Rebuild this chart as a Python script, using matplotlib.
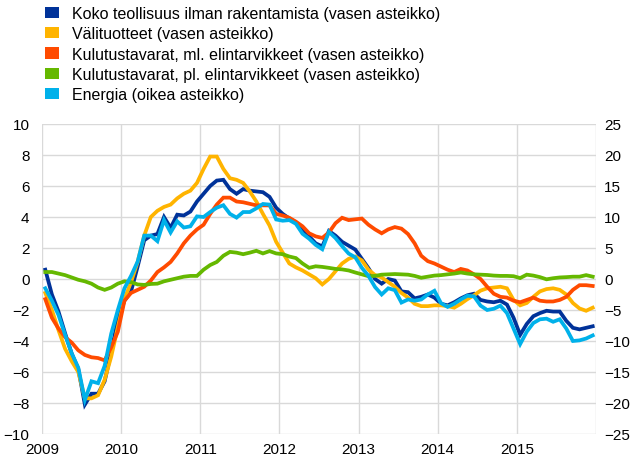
import matplotlib
matplotlib.use('Agg')
import matplotlib.pyplot as plt
from matplotlib.patches import Patch
import numpy as np

plt.rcParams['font.family'] = ['Liberation Sans', 'DejaVu Sans']

# monthly, Jan 2009 - Dec 2015
koko = [0.6, -1.0, -2.1, -3.5, -4.8, -5.8, -8.1, -7.4, -7.4, -6.6, -4.7, -2.6,
        -1.4, -0.8, 0.8, 2.5, 2.8, 2.9, 4.0, 3.3, 4.15, 4.1, 4.35, 5.0,
        5.5, 6.0, 6.35, 6.4, 5.8, 5.5, 5.8, 5.7, 5.65, 5.6, 5.3, 4.6,
        4.2, 3.9, 3.65, 3.2, 2.75, 2.3, 2.1, 3.1, 2.8, 2.4, 2.15, 1.9,
        1.3, 0.7, 0.0, -0.3, 0.0, -0.1, -0.8, -0.85, -1.25, -1.15, -1.0, -1.2,
        -1.6, -1.7, -1.5, -1.25, -1.05, -0.95, -1.35, -1.45, -1.5, -1.4, -1.65, -2.5,
        -3.6, -2.9, -2.4, -2.2, -2.05, -2.1, -2.1, -2.7, -3.15, -3.25, -3.15, -3.05]

valituotteet = [-0.9, -2.0, -3.3, -4.5, -5.3, -6.0, -7.7, -7.7, -7.5, -6.5, -5.0, -3.1,
                -1.3, -0.2, 1.1, 2.8, 4.0, 4.4, 4.65, 4.8, 5.2, 5.5, 5.7, 6.2,
                7.1, 7.9, 7.9, 7.1, 6.5, 6.4, 6.2, 5.65, 5.0, 4.2, 3.45, 2.4,
                1.7, 1.0, 0.75, 0.55, 0.3, 0.05, -0.35, 0.0, 0.5, 1.0, 1.3, 1.45,
                1.2, 0.6, 0.25, 0.1, -0.2, -0.5, -0.9, -1.2, -1.6, -1.75, -1.75, -1.7,
                -1.7, -1.75, -1.85, -1.6, -1.3, -1.05, -0.75, -0.6, -0.55, -0.5, -0.6, -1.35,
                -1.7, -1.55, -1.15, -0.8, -0.65, -0.6, -0.7, -1.0, -1.55, -1.9, -2.05, -1.85]

kulutus_ml = [-1.3, -2.5, -3.2, -3.75, -4.1, -4.6, -4.9, -5.05, -5.1, -5.25, -4.4, -3.4,
              -1.4, -0.9, -0.7, -0.5, -0.1, 0.45, 0.75, 1.1, 1.65, 2.3, 2.8, 3.2,
              3.5, 4.2, 4.8, 5.25, 5.25, 5.0, 4.95, 4.85, 4.75, 4.75, 4.75, 4.2,
              4.1, 3.95, 3.7, 3.4, 2.95, 2.75, 2.65, 3.0, 3.6, 3.95, 3.8, 3.85,
              3.9, 3.5, 3.2, 2.95, 3.2, 3.35, 3.25, 2.9, 2.3, 1.5, 1.15, 1.0,
              0.8, 0.6, 0.45, 0.65, 0.55, 0.3, 0.0, -0.5, -0.95, -1.15, -1.2, -1.4,
              -1.5, -1.35, -1.2, -1.4, -1.45, -1.45, -1.35, -1.15, -0.7, -0.4, -0.4, -0.45]

kulutus_pl = [0.45, 0.45, 0.35, 0.25, 0.1, -0.05, -0.15, -0.3, -0.55, -0.7, -0.55, -0.3,
              -0.15, -0.2, -0.35, -0.38, -0.32, -0.3, -0.15, -0.05, 0.05, 0.15, 0.2, 0.2,
              0.6, 0.9, 1.1, 1.5, 1.75, 1.7, 1.6, 1.7, 1.82, 1.65, 1.8, 1.65,
              1.6, 1.45, 1.35, 1.0, 0.72, 0.82, 0.78, 0.72, 0.65, 0.62, 0.55, 0.42,
              0.3, 0.18, 0.2, 0.28, 0.3, 0.32, 0.3, 0.28, 0.2, 0.08, 0.15, 0.22,
              0.25, 0.3, 0.35, 0.42, 0.35, 0.3, 0.28, 0.26, 0.22, 0.2, 0.2, 0.18,
              0.06, 0.28, 0.22, 0.12, -0.02, 0.05, 0.1, 0.12, 0.15, 0.15, 0.25, 0.15]

# right-hand scale
energia = [-1.5, -3.5, -5.8, -9.0, -12.0, -14.3, -19.5, -16.5, -16.8, -14.0, -8.8, -5.0,
           -1.5, 0.5, 2.8, 7.0, 7.0, 6.1, 9.5, 7.5, 9.3, 8.3, 8.5, 10.1,
           10.0, 10.8, 11.5, 11.9, 10.5, 9.9, 10.8, 10.8, 11.4, 12.1, 12.0, 9.6,
           9.4, 9.5, 8.9, 7.3, 6.5, 5.5, 4.8, 7.6, 6.6, 5.3, 4.1, 3.5,
           1.8, 0.5, -1.3, -2.5, -1.5, -1.8, -3.8, -3.3, -3.5, -3.3, -2.5, -1.9,
           -3.9, -4.5, -4.0, -3.3, -2.7, -2.8, -4.3, -5.0, -4.8, -4.3, -5.5, -8.0,
           -10.5, -8.5, -7.1, -6.5, -6.4, -6.9, -6.5, -8.0, -10.0, -9.9, -9.6, -9.1]

years = list(range(2009, 2016))
labels = ['Koko teollisuus ilman rakentamista (vasen asteikko)',
          'Välituotteet (vasen asteikko)',
          'Kulutustavarat, ml. elintarvikkeet (vasen asteikko)',
          'Kulutustavarat, pl. elintarvikkeet (vasen asteikko)',
          'Energia (oikea asteikko)']
colors = ['#003299', '#FFB400', '#FF4B00', '#65B800', '#00B1EA']

t = 2009 + (np.arange(len(koko)) + 0.5) / 12

fig = plt.figure(figsize=(6.33, 4.64), dpi=100)
ax = fig.add_axes([42 / 633, 1 - 435 / 464, 554 / 633, 310 / 464])
ax2 = ax.twinx()

lw = 2.7
for series, c in zip([koko, valituotteet, kulutus_ml, kulutus_pl], colors[:4]):
    ax.plot(t, series, color=c, lw=lw, solid_joinstyle='miter')
ax2.plot(t, energia, color=colors[4], lw=lw, solid_joinstyle='miter')

ax.set_xlim(2009, 2016)
ax.set_ylim(-10, 10)
ax2.set_ylim(-25, 25)
ax.set_yticks(np.arange(-10, 11, 2))
ax2.set_yticks(np.arange(-25, 26, 5))
ax.set_xticks(years + [2016])
ax.set_xticklabels([str(y) for y in years] + [''])

ax.grid(True, color='#D9D9D9', lw=1)
ax.set_axisbelow(True)
for a in (ax, ax2):
    for s in a.spines.values():
        s.set_visible(False)
ax.tick_params(axis='both', length=0, labelsize=11, colors='black')
ax.tick_params(axis='y', pad=9)
ax.tick_params(axis='x', pad=6)
ax2.tick_params(axis='y', length=0, labelsize=11, pad=6)

handles = [Patch(facecolor=c, edgecolor='none') for c in colors]
fig.legend(handles, labels, loc='upper left', bbox_to_anchor=(45 / 633, 1 - 7 / 464),
           frameon=False, fontsize=11.5, handlelength=0.85, handleheight=0.7,
           handletextpad=0.85, labelspacing=0.33, borderaxespad=0, borderpad=0)

fig.savefig('out.png', dpi=100)
